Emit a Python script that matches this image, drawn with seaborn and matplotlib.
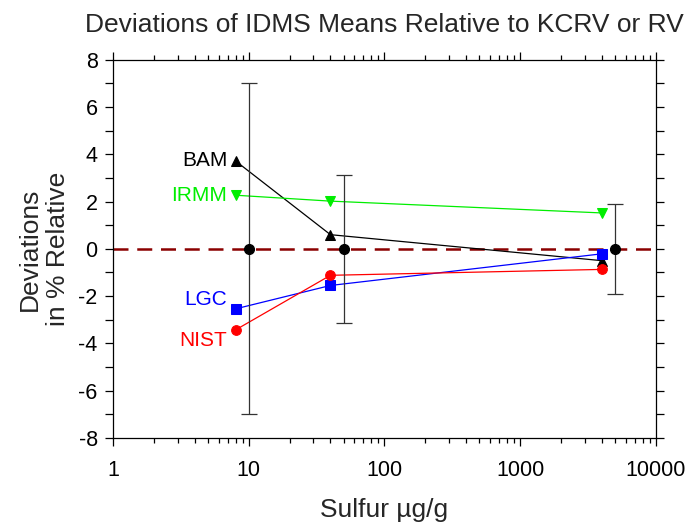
import matplotlib
matplotlib.use("Agg")
import matplotlib.pyplot as plt
import seaborn as sns
import pandas as pd
import numpy as np
from matplotlib.ticker import LogLocator, NullFormatter

sns.set_theme(style="ticks")
plt.rcParams['font.family'] = ['Liberation Sans', 'DejaVu Sans']
plt.rcParams['axes.unicode_minus'] = False

# Data
ref_x = [10, 50, 5000]
ref_y = [0, 0, 0]
ref_err = [7.0, 3.12, 1.9]

series_x = [8, 40, 4000]
bam = [3.72, 0.6, -0.5]
irmm = [2.27, 2.02, 1.52]
lgc = [-2.54, -1.55, -0.21]
nist = [-3.43, -1.12, -0.87]

names = ["BAM", "IRMM", "LGC", "NIST"]
values = [bam, irmm, lgc, nist]
colors = ["black", "#00ee00", "blue", "red"]
markers = ["^", "v", "s", "o"]
label_offsets = [(-6, 0), (-6, 0), (-6, 7), (-6, -8)]

fig = plt.figure(figsize=(6.89, 5.25), dpi=100)
ax = fig.add_axes([0.164, 0.166, 0.788, 0.72])

ax.axhline(0, color="#8b0000", lw=1.8, ls=(0, (6, 3.5)), zorder=1)

for name, vals, c, m, off in zip(names, values, colors, markers, label_offsets):
    df = pd.DataFrame({"x": series_x, "y": vals})
    sns.lineplot(data=df, x="x", y="y", ax=ax, color=c, marker=m, markersize=7,
                 markeredgecolor=c, lw=0.9, zorder=3)
    ax.annotate(name, xy=(series_x[0], vals[0]), xytext=off, textcoords="offset points",
                ha="right", va="center", color=c, fontsize=15)

ax.errorbar(ref_x, ref_y, yerr=ref_err, fmt="o", color="black", ms=7,
            ecolor="#333333", elinewidth=0.9, capsize=6, capthick=0.9, zorder=4)

ax.set_xscale("log")
ax.set_xlim(1, 10000)
ax.set_ylim(-8, 8)
ax.set_xticks([1, 10, 100, 1000, 10000])
ax.set_xticklabels(["1", "10", "100", "1000", "10000"])
ax.xaxis.set_minor_locator(LogLocator(base=10, subs=np.arange(2, 10)))
ax.xaxis.set_minor_formatter(NullFormatter())
ax.set_yticks(np.arange(-8, 9, 2))
ax.set_yticks(np.arange(-7, 8, 2), minor=True)

ax.tick_params(axis="both", which="both", direction="out", top=True, right=True,
               labeltop=False, labelright=False, labelsize=15.5, colors="black")
ax.tick_params(which="major", length=6, width=0.9)
ax.tick_params(which="minor", length=6, width=0.9)
ax.tick_params(axis="x", which="minor", length=3.5)
ax.tick_params(axis="x", which="major", pad=10)
ax.tick_params(axis="y", which="major", pad=5)

for s in ax.spines.values():
    s.set_visible(True)
    s.set_color("black")
    s.set_linewidth(0.9)

ax.set_xlabel("Sulfur µg/g", fontsize=19, labelpad=12)
ax.set_ylabel("Deviations\nin % Relative", fontsize=19, labelpad=6)
ax.set_title("Deviations of IDMS Means Relative to KCRV or RV", fontsize=19, pad=20)

fig.savefig("out.png", dpi=100)
